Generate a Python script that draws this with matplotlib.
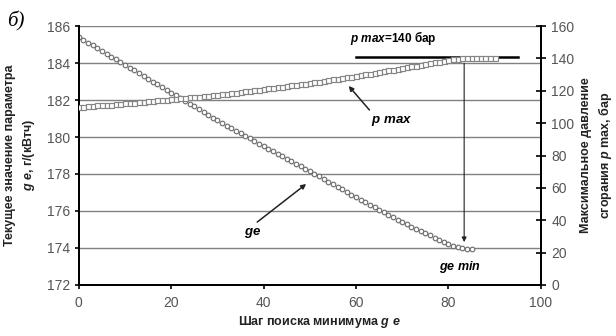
import numpy as np
import matplotlib
matplotlib.use("Agg")
import matplotlib.pyplot as plt

plt.rcParams['font.family'] = ['Liberation Sans', 'DejaVu Sans']
plt.rcParams['mathtext.fontset'] = 'custom'
plt.rcParams['mathtext.it'] = 'Liberation Sans:italic:bold'
plt.rcParams['mathtext.rm'] = 'Liberation Sans:bold'

# --- data ---
ge = [185.40, 185.25, 185.10, 184.95, 184.80, 184.65, 184.50, 184.35, 184.20, 184.05, 183.90,
      183.75, 183.60, 183.45, 183.30, 183.15, 183.00, 182.85, 182.70, 182.55, 182.40,
      182.25, 182.10, 181.95, 181.80, 181.65, 181.50, 181.35, 181.20, 181.05, 180.90,
      180.76, 180.62, 180.48, 180.34, 180.20, 180.06, 179.92, 179.78, 179.64, 179.50,
      179.37, 179.23, 179.10, 178.96, 178.83, 178.69, 178.56, 178.42, 178.29, 178.15,
      178.01, 177.87, 177.73, 177.59, 177.45, 177.31, 177.17, 177.03, 176.89, 176.75,
      176.62, 176.48, 176.35, 176.21, 176.08, 175.94, 175.81, 175.67, 175.54, 175.40,
      175.28, 175.16, 175.04, 174.92, 174.80, 174.68, 174.56, 174.44, 174.32, 174.20,
      174.12, 174.05, 174.00, 173.97, 173.95]
ge_step = list(range(len(ge)))

pmax = [110.0, 110.2, 110.4, 110.7, 110.9, 111.1, 111.3, 111.5, 111.8, 112.0, 112.2,
        112.5, 112.7, 113.0, 113.3, 113.5, 113.8, 114.0, 114.3, 114.5, 114.8,
        115.1, 115.3, 115.6, 115.9, 116.2, 116.4, 116.7, 117.0, 117.2, 117.5,
        117.8, 118.2, 118.5, 118.9, 119.2, 119.6, 119.9, 120.3, 120.6, 121.0,
        121.4, 121.8, 122.1, 122.5, 122.9, 123.3, 123.7, 124.0, 124.4, 124.8,
        125.2, 125.7, 126.1, 126.6, 127.0, 127.4, 127.9, 128.3, 128.8, 129.2,
        129.7, 130.2, 130.6, 131.1, 131.6, 132.1, 132.6, 133.0, 133.5, 134.0,
        134.5, 135.0, 135.5, 136.0, 136.5, 137.0, 137.5, 138.0, 138.5, 139.0,
        139.5, 139.8, 140.0, 140.0, 140.0, 140.0, 140.0, 140.0, 140.0, 140.0]
pmax_step = list(range(len(pmax)))

pmax_limit = 141
limit_x = [60, 95]
ge_min_step = 83.4

x_ticks = [0, 20, 40, 60, 80, 100]
ge_ticks = [172, 174, 176, 178, 180, 182, 184, 186]
p_ticks = [0, 20, 40, 60, 80, 100, 120, 140, 160]

fig = plt.figure(figsize=(6.16, 3.36), dpi=100)
ax = fig.add_axes([0.128, 0.1518, 0.75, 0.7708])
ax2 = ax.twinx()

ax.set_xlim(0, 100)
ax.set_ylim(172, 186)
ax2.set_ylim(0, 160)
ax.set_xticks(x_ticks)
ax.set_yticks(ge_ticks)
ax2.set_yticks(p_ticks)

ax.yaxis.grid(True, color='#808080', lw=1.0)
ax.set_axisbelow(True)

for a in (ax, ax2):
    a.spines['top'].set_visible(False)
    for s in ('left', 'bottom', 'right'):
        a.spines[s].set_linewidth(1.4)
        a.spines[s].set_color('black')

ax.tick_params(axis='y', direction='out', length=3, width=1.2, labelsize=10,
               labelcolor='#555555', pad=3.5)
ax.tick_params(axis='x', direction='out', length=3, width=1.2, labelsize=10,
               labelcolor='#555555', pad=5)
ax2.tick_params(axis='y', direction='inout', length=7, width=1.2, labelsize=10,
                labelcolor='#555555', pad=4)

ax.plot(ge_step, ge, ls='none', marker='o', ms=3.3, mfc='white',
        mec='#707070', mew=0.85, zorder=3)
ax2.plot(limit_x, [pmax_limit, pmax_limit], color='black', lw=1.8, zorder=2)
ax2.plot(pmax_step, pmax, ls='none', marker='s', ms=3.6, mfc='white',
         mec='#858585', mew=0.85, zorder=3)

# arrows and labels
ax2.annotate('', xy=(ge_min_step, 26.5), xytext=(ge_min_step, 137),
             arrowprops=dict(arrowstyle='-|>', color='#222222', lw=0.8,
                             mutation_scale=7, shrinkA=0, shrinkB=0))
ax.annotate('', xy=(58.4, 182.76), xytext=(62.9, 181.46),
            arrowprops=dict(arrowstyle='-|>', color='#222222', lw=1.1,
                            mutation_scale=7, shrinkA=0, shrinkB=0))
ax.annotate('', xy=(49.2, 177.46), xytext=(38.6, 175.4),
            arrowprops=dict(arrowstyle='-|>', color='#222222', lw=1.1,
                            mutation_scale=7, shrinkA=0, shrinkB=0))

ax.text(68.1, 185.35, r'$p\ max$=140 бар', fontsize=8.5, fontweight='bold',
        ha='center', va='center')
ax.text(67.7, 180.86, r'$p\ max$', fontsize=9.5, ha='center', va='center')
ax.text(37.5, 174.8, r'$ge$', fontsize=9.5, ha='center', va='center')
ax.text(82.6, 172.97, r'$ge\ min$', fontsize=9, ha='center', va='center')

fig.text(0.518, 0.042, r'Шаг поиска минимума $g\ e$', fontsize=9,
         fontweight='bold', color='#222222', ha='center', va='center')
fig.text(0.034, 0.539, 'Текущее значение параметра\n' + r'$g\ e$, г/(кВтч)',
         fontsize=9, fontweight='bold', color='#222222', rotation=90,
         ha='center', va='center', multialignment='center', linespacing=1.45)
fig.text(0.969, 0.539, 'Максимальное давление\n' + r'сгорания $p$ max, бар',
         fontsize=9, fontweight='bold', color='#222222', rotation=90,
         ha='center', va='center', multialignment='center', linespacing=1.35)
fig.text(0.011, 0.935, 'б)', fontsize=15, family='Liberation Serif',
         style='italic', ha='left', va='center')

fig.savefig('out.png', dpi=100)
